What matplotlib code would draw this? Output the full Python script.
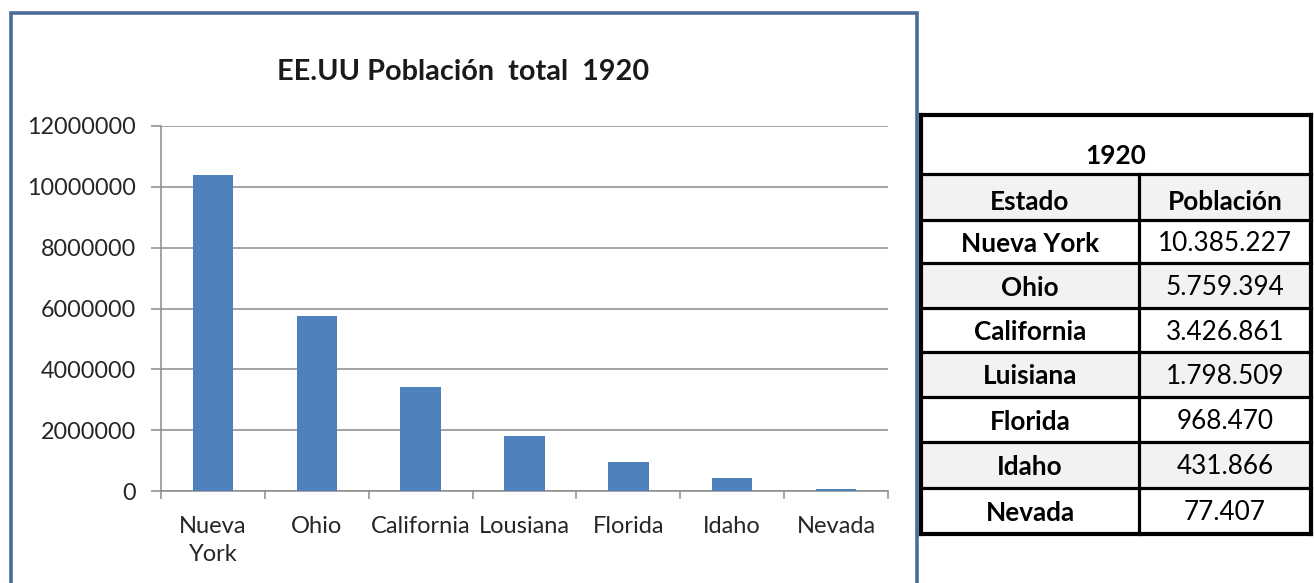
import matplotlib
matplotlib.use('Agg')
import matplotlib.pyplot as plt
from matplotlib.patches import Rectangle
from matplotlib.lines import Line2D
import numpy as np

plt.rcParams['font.family'] = ['Lato', 'DejaVu Sans']

# chart data
estados_graf = ['Nueva\nYork', 'Ohio', 'California', 'Lousiana', 'Florida', 'Idaho', 'Nevada']
poblacion = [10385227, 5759394, 3426861, 1798509, 968470, 431866, 77407]
yticks = [0, 2000000, 4000000, 6000000, 8000000, 10000000, 12000000]

# table data
tabla_titulo = '1920'
tabla_cab = ['Estado', 'Población']
tabla_estados = ['Nueva York', 'Ohio', 'California', 'Luisiana', 'Florida', 'Idaho', 'Nevada']
tabla_valores = ['10.385.227', '5.759.394', '3.426.861', '1.798.509', '968.470', '431.866', '77.407']

W, H = 1314, 583
fig = plt.figure(figsize=(W / 100, H / 100), dpi=100)

def fx(px):
    return px / W

def fy(py):
    return 1 - py / H

# chart frame
fig.patches.append(Rectangle((fx(11), fy(600)), fx(917) - fx(11), fy(13) - fy(600),
                             transform=fig.transFigure, fill=False,
                             edgecolor='#4a6d9c', linewidth=2.6))

ax = fig.add_axes([fx(161), fy(491), fx(888) - fx(161), fy(126) - fy(491)])
x = np.arange(len(poblacion))
ax.bar(x, poblacion, width=0.39, color='#4f81bd', zorder=3)
ax.set_xlim(-0.5, len(poblacion) - 0.5)
ax.set_ylim(0, 12000000)
ax.set_yticks(yticks)
ax.set_yticklabels([str(v) for v in yticks])
ax.yaxis.grid(True, color='#8c8c8c', linewidth=1.1, zorder=0)
ax.set_xticks(x)
ax.set_xticklabels(estados_graf, linespacing=1.4)
ax.set_xticks(np.arange(len(poblacion) + 1) - 0.5, minor=True)
ax.tick_params(axis='x', which='major', length=0, pad=18, labelsize=17, colors='#262626')
ax.tick_params(axis='x', which='minor', length=6, width=1.1, color='#8c8c8c')
ax.tick_params(axis='y', length=7, width=1.1, color='#8c8c8c', pad=11, labelsize=16.8,
               labelcolor='#262626')
for s in ['top', 'right']:
    ax.spines[s].set_visible(False)
for s in ['left', 'bottom']:
    ax.spines[s].set_color('#8c8c8c')
    ax.spines[s].set_linewidth(1.1)
fig.text(fx(463), fy(72), 'EE.UU Población  total  1920', ha='center', va='center',
         fontsize=20.8, fontweight='bold', color='#1a1a1a')

# table
ys = [115, 174, 220, 263, 308, 352, 397, 442, 488, 534]
xl, xm, xr = 921, 1139, 1311
gris = [1, 3, 5, 7]
for i in gris:
    fig.patches.append(Rectangle((fx(xl), fy(ys[i + 1])), fx(xr) - fx(xl), fy(ys[i]) - fy(ys[i + 1]),
                                 transform=fig.transFigure, facecolor='#f2f2f2', edgecolor='none'))
for i, yy in enumerate(ys):
    lw = 3.0 if i in (0, len(ys) - 1) else 2.3
    fig.lines.append(Line2D([fx(xl), fx(xr)], [fy(yy), fy(yy)], transform=fig.transFigure,
                            color='black', linewidth=lw))
for xx in [xl, xr]:
    fig.lines.append(Line2D([fx(xx), fx(xx)], [fy(ys[0]), fy(ys[-1])], transform=fig.transFigure,
                            color='black', linewidth=3.0))
fig.lines.append(Line2D([fx(xm), fx(xm)], [fy(ys[1]), fy(ys[-1])], transform=fig.transFigure,
                        color='black', linewidth=2.3))

fs = 18.8
c1 = (xl + xm) / 2
c2 = (xm + xr) / 2
fig.text(fx((xl + xr) / 2), fy(156), tabla_titulo, ha='center', va='center',
         fontsize=fs, fontweight='bold', color='black')
fig.text(fx(c1), fy(202), tabla_cab[0], ha='center', va='center', fontsize=fs,
         fontweight='bold', color='black')
fig.text(fx(c2), fy(202), tabla_cab[1], ha='center', va='center', fontsize=fs,
         fontweight='bold', color='black')
for i in range(len(tabla_estados)):
    yc = (ys[i + 2] + ys[i + 3]) / 2 + 2
    fig.text(fx(c1), fy(yc), tabla_estados[i], ha='center', va='center', fontsize=fs,
             fontweight='bold', color='black')
    fig.text(fx(c2), fy(yc), tabla_valores[i], ha='center', va='center', fontsize=fs,
             color='black')

fig.savefig('out.png', dpi=100)
